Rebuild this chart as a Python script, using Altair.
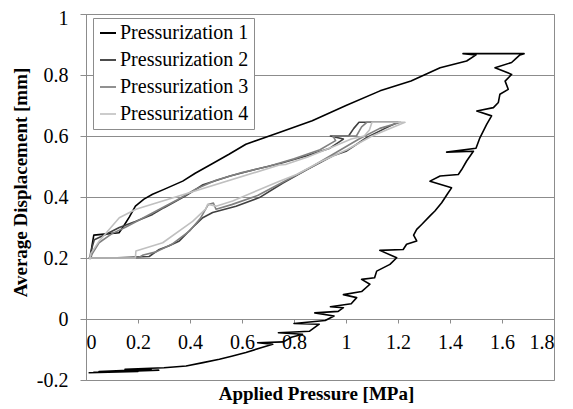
import altair as alt
import pandas as pd

series_names = ["Pressurization 1", "Pressurization 2", "Pressurization 3", "Pressurization 4"]
series_colors = ["#000000", "#404040", "#808080", "#c0c0c0"]

x_ticks = [0, 0.2, 0.4, 0.6, 0.8, 1.0, 1.2, 1.4, 1.6, 1.8]
y_ticks = [-0.2, 0, 0.2, 0.4, 0.6, 0.8, 1.0]

# Pressurization 1: jagged loading branch, then smooth unloading branch
p1_pressure = [
    0.01, 0.20, 0.03, 0.28, 0.05, 0.25, 0.15, 0.30, 0.385, 0.45, 0.513, 0.56, 0.615,
    0.67, 0.718, 0.66, 0.76, 0.79, 0.833, 0.74, 0.86, 0.897, 0.80, 0.92, 0.954, 0.88,
    0.97, 0.99, 0.94, 1.02, 1.041, 0.99, 1.06, 1.092, 1.06, 1.11, 1.118, 1.169, 1.195,
    1.13, 1.22, 1.233, 1.272, 1.26, 1.272, 1.291, 1.323, 1.342, 1.368, 1.39, 1.406,
    1.323, 1.362, 1.432, 1.445, 1.464, 1.49, 1.387, 1.50, 1.515, 1.541, 1.56, 1.503,
    1.567, 1.586, 1.592, 1.624, 1.612, 1.637, 1.573, 1.637, 1.65, 1.669, 1.685, 1.45,
    1.50, 1.464, 1.362, 1.25, 1.131, 1.0, 0.87, 0.746, 0.615, 0.55, 0.487, 0.42, 0.372,
    0.30, 0.256, 0.223, 0.19, 0.167, 0.145, 0.127, 0.08, 0.03, 0.022, 0.02,
]
p1_disp = [
    -0.176, -0.172, -0.175, -0.168, -0.172, -0.165, -0.165, -0.160, -0.154, -0.143, -0.132, -0.122, -0.110,
    -0.095, -0.083, -0.078, -0.075, -0.060, -0.050, -0.045, -0.040, -0.017, -0.015, -0.005, 0.010, 0.020,
    0.025, 0.037, 0.040, 0.050, 0.070, 0.080, 0.090, 0.114, 0.130, 0.135, 0.157, 0.179, 0.201,
    0.225, 0.228, 0.245, 0.256, 0.275, 0.294, 0.310, 0.338, 0.354, 0.381, 0.410, 0.430,
    0.452, 0.469, 0.474, 0.490, 0.518, 0.550, 0.547, 0.560, 0.594, 0.638, 0.666, 0.682,
    0.693, 0.710, 0.737, 0.753, 0.780, 0.802, 0.824, 0.841, 0.851, 0.866, 0.870, 0.870,
    0.866, 0.846, 0.824, 0.780, 0.748, 0.700, 0.650, 0.612, 0.573, 0.540, 0.510, 0.478, 0.452,
    0.425, 0.409, 0.393, 0.370, 0.335, 0.305, 0.283, 0.279, 0.275, 0.235, 0.200,
]

p2_pressure = [
    0.01, 0.12, 0.243, 0.282, 0.32, 0.359, 0.41, 0.449, 0.487, 0.577, 0.667, 0.756, 0.85,
    0.95, 1.003, 1.08, 1.15, 1.20, 1.05, 1.03, 1.01, 0.94, 0.99, 0.938, 0.85, 0.746, 0.65,
    0.554, 0.45, 0.385, 0.30, 0.256, 0.19, 0.128, 0.077, 0.032, 0.019, 0.015,
]
p2_disp = [
    0.200, 0.201, 0.205, 0.228, 0.240, 0.256, 0.300, 0.332, 0.349, 0.370, 0.398, 0.445, 0.490,
    0.535, 0.551, 0.595, 0.625, 0.645, 0.645, 0.625, 0.600, 0.600, 0.590, 0.560, 0.535, 0.510, 0.490,
    0.469, 0.440, 0.405, 0.365, 0.343, 0.320, 0.300, 0.278, 0.260, 0.223, 0.200,
]

p3_pressure = [
    0.01, 0.20, 0.22, 0.27, 0.33, 0.40, 0.44, 0.47, 0.49, 0.50, 0.56, 0.66, 0.76, 0.86,
    0.96, 1.05, 1.13, 1.21, 1.08, 1.06, 1.04, 0.95, 0.96, 0.90, 0.80, 0.70, 0.60, 0.50,
    0.42, 0.35, 0.25, 0.15, 0.10, 0.05, 0.025, 0.015,
]
p3_disp = [
    0.200, 0.200, 0.210, 0.220, 0.245, 0.290, 0.330, 0.375, 0.380, 0.360, 0.375, 0.405, 0.450, 0.495,
    0.545, 0.590, 0.625, 0.645, 0.645, 0.630, 0.600, 0.600, 0.585, 0.555, 0.525, 0.500, 0.480, 0.455,
    0.425, 0.390, 0.345, 0.300, 0.280, 0.250, 0.215, 0.200,
]

p4_pressure = [
    0.01, 0.19, 0.192, 0.295, 0.41, 0.46, 0.468, 0.50, 0.564, 0.744, 0.81, 0.90, 1.003,
    1.10, 1.227, 1.10, 1.09, 1.07, 1.02, 0.95, 0.85, 0.77, 0.744, 0.192, 0.128, 0.051,
    0.019, 0.015,
]
p4_disp = [
    0.200, 0.200, 0.223, 0.250, 0.320, 0.360, 0.376, 0.370, 0.387, 0.452, 0.474, 0.515, 0.555,
    0.600, 0.645, 0.645, 0.620, 0.600, 0.590, 0.565, 0.530, 0.507, 0.505, 0.360, 0.332, 0.256,
    0.215, 0.195,
]

rows = []
for name, xs, ys in zip(series_names,
                        [p1_pressure, p2_pressure, p3_pressure, p4_pressure],
                        [p1_disp, p2_disp, p3_disp, p4_disp]):
    for i, (xv, yv) in enumerate(zip(xs, ys)):
        rows.append({"series": name, "i": i, "pressure": xv, "disp": yv})
df = pd.DataFrame(rows)

FONT = "Times New Roman, Liberation Serif, DejaVu Serif, serif"
GRID = "#8c8c8c"

label_expr = "datum.value < 0 ? '-' + format(-datum.value, '~g') : format(datum.value, '~g')"

chart = alt.Chart(df).mark_line(strokeWidth=1.6, strokeJoin="round").encode(
    x=alt.X("pressure:Q",
            scale=alt.Scale(domain=[0, 1.8], nice=False, zero=False),
            axis=alt.Axis(values=x_ticks, grid=False, offset=-61, tickSize=4,
                          labelPadding=9, labelExpr=label_expr,
                          title="Applied Pressure [MPa]", titleX=230, titleY=80,
                          titleBaseline="alphabetic")),
    y=alt.Y("disp:Q",
            scale=alt.Scale(domain=[-0.2, 1.0], nice=False, zero=False),
            axis=alt.Axis(values=y_ticks, grid=True, tickSize=6, labelPadding=12,
                          labelExpr=label_expr,
                          labelOffset={"expr": "datum.value == 1 ? 4 : 0"},
                          title="Average Displacement [mm]", titleX=-60, titleY=168,
                          titleBaseline="alphabetic", titleAngle=270)),
    color=alt.Color("series:N",
                    scale=alt.Scale(domain=series_names, range=series_colors),
                    legend=alt.Legend(title=None, orient="none", legendX=7, legendY=4,
                                      symbolType="stroke", symbolSize=256,
                                      symbolStrokeWidth=2, labelOffset=2,
                                      labelFontSize=20, labelFont=FONT,
                                      labelColor="black", rowPadding=7, padding=5,
                                      strokeColor=GRID, fillColor="white")),
    strokeWidth=alt.StrokeWidth("series:N",
                                scale=alt.Scale(domain=series_names, range=[2, 1.6, 1.6, 1.6]),
                                legend=None),
    order=alt.Order("i:Q"),
).properties(
    width=468,
    height=366,
    autosize=alt.AutoSizeParams(type="none"),
    padding={"left": 78, "top": 6, "right": 11, "bottom": 25},
).configure_axis(
    labelFont=FONT,
    labelFontSize=20,
    labelColor="black",
    titleFont=FONT,
    titleFontSize=19,
    titleFontWeight="bold",
    titleColor="black",
    domainColor=GRID,
    tickColor=GRID,
    gridColor=GRID,
    gridOpacity=1,
    domainOpacity=1,
).configure_view(
    stroke=GRID,
    strokeWidth=1,
)

chart.save("out.html", embed_options={"renderer": "svg", "actions": False})
